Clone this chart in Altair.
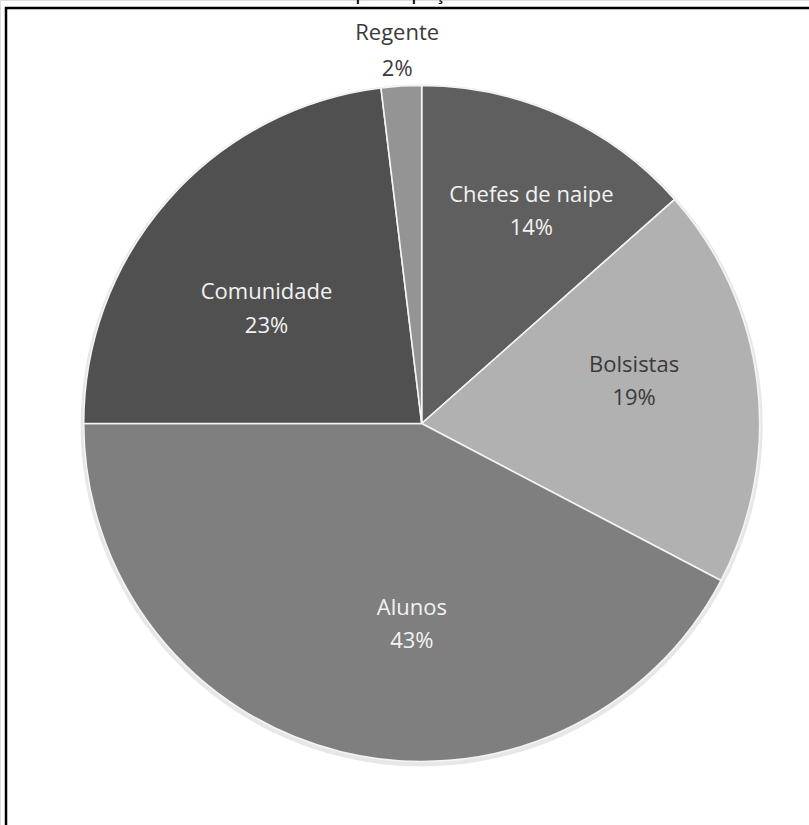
import altair as alt
import pandas as pd

# Data (slices clockwise from 12 o'clock)
categorias = ["Chefes de naipe", "Bolsistas", "Alunos", "Comunidade", "Regente"]
valores = [7, 10, 22, 12, 1]
rotulos_pct = ["14%", "19%", "43%", "23%", "2%"]
cores = ["#5f5f5f", "#b1b1b1", "#7f7f7f", "#505050", "#949494"]
cores_texto = ["#f2f2f2", "#3a3a3a", "#f2f2f2", "#f2f2f2", "#3a3a3a"]
titulo = "participação"

df = pd.DataFrame({
    "categoria": categorias,
    "valor": valores,
    "ordem": list(range(len(categorias))),
    "rotulo": [f"{c}\n{p}" for c, p in zip(categorias, rotulos_pct)],
    "cor_texto": cores_texto,
})

TOTAL = float(sum(valores))
CX, CY, R = 421.7, 423.5, 338
escala_theta = alt.Scale(domain=[0, TOTAL], range=[0, 6.283185307179586])

sombra = alt.Chart(df).mark_arc(color="#cfcfcf", opacity=0.5).encode(
    theta=alt.Theta("valor:Q", stack=True, scale=escala_theta),
    order=alt.Order("ordem:Q"),
    radius=alt.value(R + 3),
    x=alt.value(CX),
    y=alt.value(CY + 2),
)

fatias = alt.Chart(df).mark_arc(stroke="#f4f4f4", strokeWidth=1.6).encode(
    theta=alt.Theta("valor:Q", stack=True, scale=escala_theta),
    order=alt.Order("ordem:Q"),
    color=alt.Color("categoria:N", scale=alt.Scale(domain=categorias, range=cores), legend=None),
    radius=alt.value(R),
    x=alt.value(CX),
    y=alt.value(CY),
)

# label placement per slice: (radius, dx, dy, line height)
posicoes = {
    "Chefes de naipe": (238, 12, -11, 33),
    "Bolsistas": (216, -2, -32, 33),
    "Alunos": (200, 38, -10, 33),
    "Comunidade": (194, -10, -3, 34),
    "Regente": (373, -2, -18, 36),
}

base_texto = alt.Chart(df).transform_window(
    acum="sum(valor)", sort=[alt.SortField("ordem")], frame=[None, 0]
).transform_calculate(meio="datum.acum - datum.valor / 2")

camadas_texto = []
for cat in categorias:
    r, dx, dy, lh = posicoes[cat]
    t = base_texto.transform_filter(alt.datum.categoria == cat).mark_text(
        font="Open Sans", fontSize=22, lineBreak="\n", lineHeight=lh,
        align="center", baseline="middle", dx=dx, dy=dy,
    ).encode(
        theta=alt.Theta("meio:Q", stack=None, scale=escala_theta),
        text="rotulo:N",
        color=alt.Color("cor_texto:N", scale=None),
        radius=alt.value(r),
        x=alt.value(CX),
        y=alt.value(CY),
    )
    camadas_texto.append(t)

moldura = alt.Chart(df).mark_rect(
    fill=None, stroke="#000000", strokeWidth=2.5
).encode(
    x=alt.value(6), y=alt.value(8), x2=alt.value(860), y2=alt.value(880)
).transform_filter(alt.datum.ordem == 0)

titulo_txt = alt.Chart(pd.DataFrame({"t": [titulo]})).mark_text(
    font="Liberation Sans", fontSize=21, align="center", baseline="alphabetic", color="#000000"
).encode(text="t:N", x=alt.value(412), y=alt.value(0))

chart = alt.layer(sombra, fatias, *camadas_texto, moldura, titulo_txt).properties(
    width=809, height=825, padding=0, autosize=alt.AutoSizeParams(type="none")
).configure_view(stroke=None).configure(background="#ffffff")

chart.save("out.html", embed_options={"renderer": "svg", "actions": False})
